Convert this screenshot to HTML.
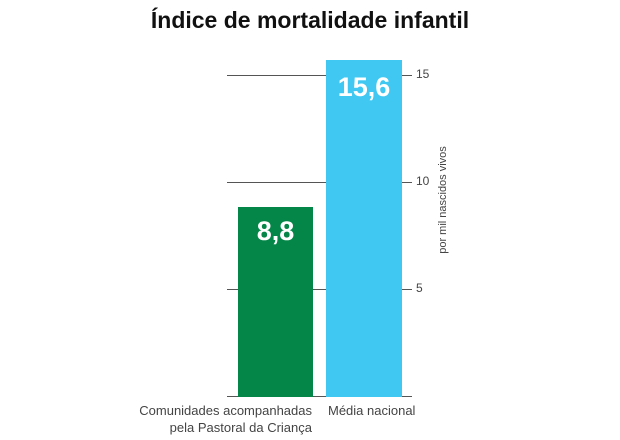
<!DOCTYPE html>
<html><head><meta charset="utf-8"><style>
body{margin:0;background:#fff;width:620px;height:440px;overflow:hidden;font-family:"Liberation Sans",sans-serif;position:relative}
.a{position:absolute}
.t{left:0;width:620px;top:7px;text-align:center;font-weight:bold;font-size:23px;color:#111}
.g{height:1px;background:#555;left:227px;width:185px}
.lbl{font-size:12px;color:#444}
.v{color:#fff;font-weight:bold;font-size:27px;text-align:center}
</style></head><body>
<div class="a t">Índice de mortalidade infantil</div>
<div class="a g" style="top:75px"></div>
<div class="a g" style="top:182px"></div>
<div class="a g" style="top:289px"></div>
<div class="a g" style="top:396px"></div>
<div class="a" style="left:238px;top:207px;width:75px;height:190px;background:#038647"></div>
<div class="a" style="left:326px;top:60px;width:76px;height:337px;background:#40c8f2"></div>
<div class="a v" style="left:238px;top:216px;width:75px">8,8</div>
<div class="a v" style="left:326px;top:72px;width:76px">15,6</div>
<div class="a lbl" style="left:416px;top:67px">15</div>
<div class="a lbl" style="left:416px;top:174px">10</div>
<div class="a lbl" style="left:416px;top:281px">5</div>
<div class="a lbl" style="left:443px;top:200px;transform:translate(-50%,-50%) rotate(-90deg);white-space:nowrap;font-size:11px">por mil nascidos vivos</div>
<div class="a lbl" style="right:308px;top:402px;text-align:right;font-size:13px;line-height:17px">Comunidades acompanhadas<br>pela Pastoral da Criança</div>
<div class="a lbl" style="left:328px;top:402px;font-size:13px;line-height:17px">Média nacional</div>
</body></html>
